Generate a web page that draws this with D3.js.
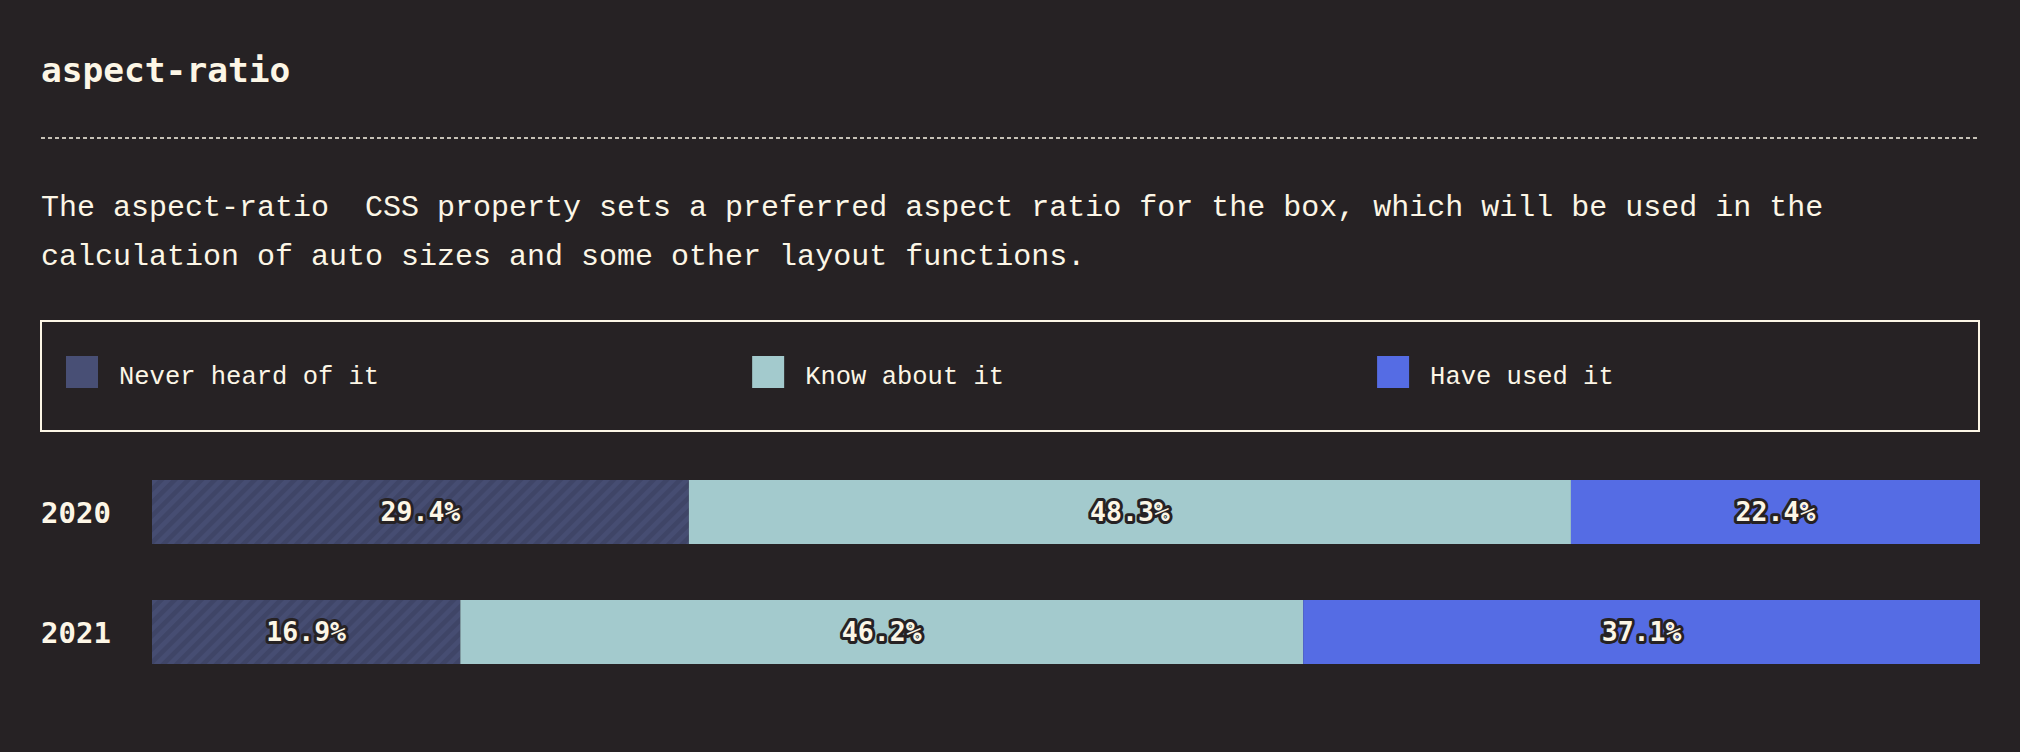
<!DOCTYPE html>
<html>
<head>
<meta charset="utf-8">
<script src="https://cdn.jsdelivr.net/npm/d3@7"></script>
<style>
  html, body { margin: 0; padding: 0; background: #262224; }
  svg { display: block; }
</style>
</head>
<body>
<svg id="chart" width="2020" height="752"></svg>
<script>
// ---- data ----
const title = "aspect-ratio";
const descriptionLines = [
  "The aspect-ratio  CSS property sets a preferred aspect ratio for the box, which will be used in the",
  "calculation of auto sizes and some other layout functions."
];
const years = ["2020", "2021"];
const categories = ["Never heard of it", "Know about it", "Have used it"];
const neverHeard = [29.4, 16.9];
const knowAbout = [48.3, 46.2];
const haveUsed = [22.4, 37.1];

// ---- style ----
const BG = "#262224";
const FG = "#fcf6e6";
const colors = ["#464d72", "#a3cacd", "#556ce4"];
const MONO = "'Liberation Mono', 'DejaVu Sans Mono', monospace";
const MONO_BOLD = "'DejaVu Sans Mono', 'Liberation Mono', monospace";

const W = 2020, H = 752;
const left = 41, right = 1979;

const svg = d3.select("#chart");
svg.append("rect").attr("width", W).attr("height", H).attr("fill", BG);

// hatch pattern for "never heard"
const defs = svg.append("defs");
const pat = defs.append("pattern")
  .attr("id", "hatch")
  .attr("patternUnits", "userSpaceOnUse")
  .attr("width", 9.4).attr("height", 9.4)
  .attr("patternTransform", "rotate(45)");
pat.append("rect").attr("width", 9.4).attr("height", 9.4).attr("fill", colors[0]);
pat.append("rect").attr("width", 4.7).attr("height", 9.4).attr("fill", "#3f4567");

// title
svg.append("text")
  .attr("x", left).attr("y", 82)
  .attr("font-family", MONO_BOLD).attr("font-weight", "bold")
  .attr("font-size", 34.5).attr("fill", FG)
  .text(title);

// dashed rule
svg.append("line")
  .attr("x1", left).attr("x2", right)
  .attr("y1", 138).attr("y2", 138)
  .attr("stroke", FG).attr("stroke-width", 1.5)
  .attr("stroke-dasharray", "4 3");

// description
svg.append("g").selectAll("text")
  .data(descriptionLines)
  .join("text")
  .attr("x", left)
  .attr("y", (d, i) => 216 + i * 49)
  .attr("font-family", MONO).attr("font-size", 30)
  .attr("fill", FG)
  .attr("xml:space", "preserve")
  .style("white-space", "pre")
  .text(d => d);

// legend box
svg.append("rect")
  .attr("x", left).attr("y", 321)
  .attr("width", right - left).attr("height", 110)
  .attr("fill", "none").attr("stroke", FG).attr("stroke-width", 2);

const legend = svg.append("g");
let lx = 66;
categories.forEach((c, i) => {
  const g = legend.append("g").attr("transform", `translate(${lx},0)`);
  g.append("rect").attr("x", 0).attr("y", 356).attr("width", 32).attr("height", 32)
    .attr("fill", i === 0 ? "#484f75" : colors[i]);
  const t = g.append("text")
    .attr("x", 53).attr("y", 384)
    .attr("font-family", MONO).attr("font-size", 25.5)
    .attr("fill", FG).text(c);
  const tw = t.node().getComputedTextLength();
  lx += 53 + tw + 373;
});

// bars
const rows = years.map((y, i) => ({
  year: y,
  [categories[0]]: neverHeard[i],
  [categories[1]]: knowAbout[i],
  [categories[2]]: haveUsed[i]
}));
const series = d3.stack().keys(categories).offset(d3.stackOffsetExpand)(rows);

const x = d3.scaleLinear().domain([0, 1]).range([152, 1980]);
const y = d3.scaleBand().domain(years).range([452, 692])
  .paddingInner(56 / 120).paddingOuter(28 / 120);

// year labels
svg.append("g").selectAll("text")
  .data(years)
  .join("text")
  .attr("x", left)
  .attr("y", d => y(d) + y.bandwidth() / 2 + 11)
  .attr("font-family", MONO_BOLD).attr("font-weight", "bold")
  .attr("font-size", 29).attr("fill", FG)
  .text(d => d);

const gBars = svg.append("g");
series.forEach((s, si) => {
  gBars.append("g").selectAll("rect")
    .data(s)
    .join("rect")
    .attr("x", d => x(d[0]))
    .attr("y", d => y(d.data.year))
    .attr("width", d => x(d[1]) - x(d[0]))
    .attr("height", y.bandwidth())
    .attr("fill", si === 0 ? "url(#hatch)" : colors[si]);
});

const gLabels = svg.append("g");
series.forEach((s, si) => {
  gLabels.append("g").selectAll("text")
    .data(s)
    .join("text")
    .attr("x", d => (x(d[0]) + x(d[1])) / 2)
    .attr("y", d => y(d.data.year) + y.bandwidth() / 2 + 9)
    .attr("text-anchor", "middle")
    .attr("font-family", MONO_BOLD).attr("font-weight", "bold")
    .attr("font-size", 26.5)
    .attr("fill", FG)
    .attr("stroke", BG).attr("stroke-width", 6)
    .attr("stroke-linejoin", "round")
    .attr("paint-order", "stroke")
    .text(d => d.data[s.key].toFixed(1) + "%");
});
</script>
</body>
</html>
